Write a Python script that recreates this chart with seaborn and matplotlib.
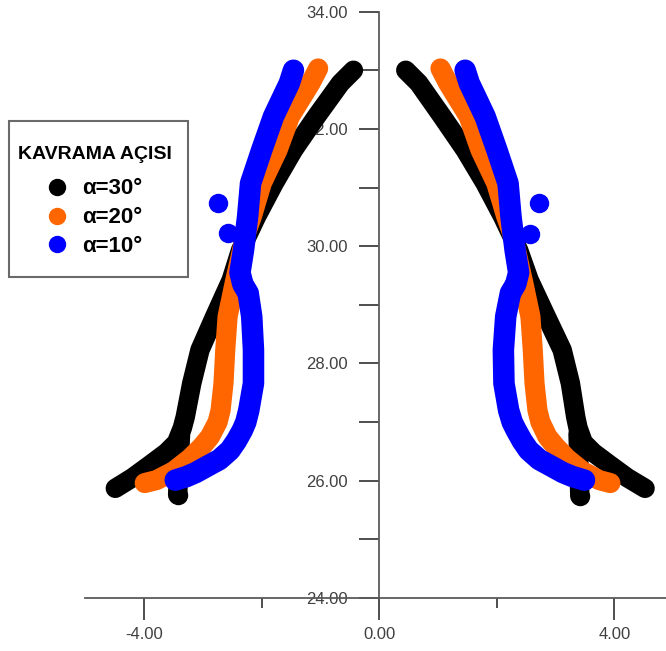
import matplotlib
matplotlib.use('Agg')
import matplotlib.pyplot as plt
import seaborn as sns
from matplotlib.lines import Line2D
from matplotlib.patches import Rectangle
from matplotlib.ticker import FixedLocator, MultipleLocator, FormatStrFormatter

# Profile data (x, y), left and right halves
black_left_x = [-0.44, -0.66, -1.07, -1.46, -1.79, -2.09, -2.36, -2.52, -2.80, -3.05, -3.19, -3.30, -3.35, -3.45, -3.62, -3.90, -4.20, -4.49]
black_left_y = [33.00, 32.78, 32.21, 31.64, 31.07, 30.50, 29.93, 29.42, 28.80, 28.23, 27.66, 27.09, 26.90, 26.65, 26.48, 26.27, 26.05, 25.87]
black_right_x = [0.45, 0.67, 1.07, 1.46, 1.80, 2.10, 2.37, 2.55, 2.84, 3.11, 3.25, 3.34, 3.38, 3.47, 3.64, 3.92, 4.22, 4.52]
black_right_y = [33.00, 32.78, 32.21, 31.64, 31.07, 30.50, 29.93, 29.42, 28.80, 28.23, 27.66, 27.09, 26.90, 26.65, 26.48, 26.27, 26.05, 25.87]
black_stub_left_x = [-3.38, -3.43]
black_stub_left_y = [26.80, 25.76]
black_stub_right_x = [3.38, 3.41]
black_stub_right_y = [26.80, 25.74]

orange_left_x = [-1.04, -1.17, -1.52, -1.73, -2.00, -2.17, -2.27, -2.46, -2.58, -2.62, -2.65, -2.70, -2.75, -2.88, -3.02, -3.22, -3.50, -3.79, -3.99]
orange_left_y = [33.03, 32.78, 32.21, 31.64, 31.07, 30.50, 30.22, 29.37, 28.80, 28.23, 27.66, 27.20, 27.00, 26.75, 26.58, 26.38, 26.16, 26.01, 25.96]
orange_right_x = [1.04, 1.17, 1.52, 1.72, 1.99, 2.16, 2.26, 2.45, 2.57, 2.61, 2.64, 2.69, 2.74, 2.86, 3.00, 3.19, 3.46, 3.74, 3.93]
orange_right_y = [33.03, 32.78, 32.21, 31.64, 31.07, 30.50, 30.22, 29.37, 28.80, 28.23, 27.66, 27.20, 27.00, 26.75, 26.58, 26.38, 26.16, 26.01, 25.96]

blue_left_x = [-1.46, -1.53, -1.80, -2.00, -2.19, -2.24, -2.31, -2.37, -2.32, -2.23, -2.17, -2.14, -2.14, -2.22, -2.27, -2.33, -2.43, -2.54, -2.72, -2.94, -3.12, -3.28, -3.47]
blue_left_y = [33.00, 32.78, 32.21, 31.64, 31.07, 30.50, 29.93, 29.55, 29.35, 29.20, 28.80, 28.23, 27.66, 27.20, 27.00, 26.86, 26.68, 26.52, 26.36, 26.24, 26.14, 26.07, 26.01]
blue_right_x = [1.46, 1.53, 1.80, 2.00, 2.19, 2.24, 2.31, 2.37, 2.32, 2.23, 2.15, 2.11, 2.12, 2.20, 2.26, 2.33, 2.43, 2.54, 2.72, 2.94, 3.12, 3.29, 3.49]
blue_right_y = [33.00, 32.78, 32.21, 31.64, 31.07, 30.50, 29.93, 29.55, 29.35, 29.20, 28.80, 28.23, 27.66, 27.20, 27.00, 26.86, 26.68, 26.52, 26.36, 26.24, 26.14, 26.07, 26.01]

# single points that stand apart from the bands
black_dots_x = [-3.43, 3.41]
black_dots_y = [25.76, 25.74]
blue_dots_x = [-2.74, -2.57, 2.72, 2.56]
blue_dots_y = [30.73, 30.22, 30.73, 30.20]

labels = ['α=30°', 'α=20°', 'α=10°']
colors = ['#000000', '#ff6600', '#0000ff']
legend_title = 'KAVRAMA AÇISI'

y_major = [24, 26, 28, 30, 32, 34]
x_major = [-4, 0, 4]
x_minor = [-2, 2]

sns.set_style('white')
plt.rcParams['font.family'] = ['Liberation Sans', 'DejaVu Sans']
plt.rcParams['text.color'] = 'black'

fig = plt.figure(figsize=(6.66, 6.51), dpi=100)
ax = fig.add_axes([0, 0, 1, 1])
ax.set_xlim(-6.451, 4.876)
ax.set_ylim(23.096, 34.198)

line_kw = dict(sort=False, estimator=None, legend=False, ax=ax,
               solid_capstyle='round', solid_joinstyle='round')

# black (bottom layer)
for xs, ys in [(black_left_x, black_left_y), (black_right_x, black_right_y),
               (black_stub_left_x, black_stub_left_y), (black_stub_right_x, black_stub_right_y)]:
    sns.lineplot(x=xs, y=ys, color=colors[0], linewidth=14, zorder=3, **line_kw)
sns.scatterplot(x=black_dots_x, y=black_dots_y, color=colors[0], s=14 ** 2, linewidth=0, zorder=3, ax=ax, legend=False)

# orange
for xs, ys in [(orange_left_x, orange_left_y), (orange_right_x, orange_right_y)]:
    sns.lineplot(x=xs, y=ys, color=colors[1], linewidth=14.5, zorder=4, **line_kw)

# blue (top layer)
for xs, ys in [(blue_left_x, blue_left_y), (blue_right_x, blue_right_y)]:
    sns.lineplot(x=xs, y=ys, color=colors[2], linewidth=15.5, zorder=5, **line_kw)
sns.scatterplot(x=blue_dots_x, y=blue_dots_y, color=colors[2], s=14 ** 2, linewidth=0, zorder=5, ax=ax, legend=False)

# axes crossing at x=0, y=24
for s in ['top', 'right']:
    ax.spines[s].set_visible(False)
ax.spines['left'].set_position(('data', 0))
ax.spines['bottom'].set_position(('data', 24))
ax.spines['left'].set_bounds(24, 34)
ax.spines['bottom'].set_bounds(-5.0, 4.876)
for s in ['left', 'bottom']:
    ax.spines[s].set_color('#5a5a5a')
    ax.spines[s].set_linewidth(1.3)
    ax.spines[s].set_zorder(1)

ax.yaxis.set_major_locator(FixedLocator(y_major))
ax.yaxis.set_minor_locator(MultipleLocator(1))
ax.yaxis.set_major_formatter(FormatStrFormatter('%.2f'))
ax.xaxis.set_major_locator(FixedLocator(x_major))
ax.xaxis.set_minor_locator(FixedLocator(x_minor))
ax.xaxis.set_major_formatter(FormatStrFormatter('%.2f'))

ax.tick_params(left=True, bottom=True, which='both')
ax.tick_params(axis='y', which='both', direction='out', length=14.4, width=1.2,
               color='#303030', pad=8, labelsize=12, labelcolor='#404040')
ax.tick_params(axis='x', which='major', direction='out', length=15.8, width=1.2,
               color='#303030', pad=5, labelsize=12, labelcolor='#404040')
ax.tick_params(axis='x', which='minor', direction='out', length=7.2, width=1.2, color='#303030')

# legend box
W, H = 666, 651
fig.add_artist(Rectangle((8.5 / W, 1 - 277 / H), (187.8 - 8.5) / W, (277 - 121) / H,
                         transform=fig.transFigure, facecolor='none',
                         edgecolor='#6a6a6a', linewidth=1.5, zorder=6))
fig.text(18 / W, 1 - 159 / H, legend_title, fontsize=14, fontweight='bold',
         color='black', ha='left', va='baseline', zorder=7)
handles = [Line2D([], [], marker='o', linestyle='', color=c, markersize=11.5) for c in colors]
leg = ax.legend(handles, labels, loc='upper left',
                bbox_to_anchor=(45.9 / W, 1 - 178.5 / H), bbox_transform=fig.transFigure,
                frameon=False, borderpad=0, borderaxespad=0, handlelength=1.0,
                handletextpad=0.63, labelspacing=0.35, labelcolor='black',
                prop={'size': 16, 'weight': 'bold'})
leg.set_zorder(8)

fig.savefig('out.png', dpi=100)
